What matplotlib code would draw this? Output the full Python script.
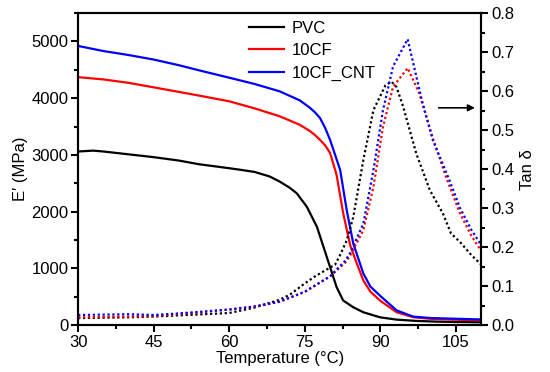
import numpy as np
import matplotlib.pyplot as plt
from matplotlib.ticker import MultipleLocator

plt.rcParams['font.family'] = ['Liberation Sans', 'DejaVu Sans']
plt.rcParams['font.size'] = 12

# 储能模量 E' (MPa)
t_pvc = [30, 33, 35, 40, 45, 50, 54, 60, 62, 65, 68, 70, 72, 73.4, 75.4, 77.4, 78.7, 80, 81.3, 82.6, 84.6, 86.6, 89.9, 93.2, 97, 101, 105, 110]
e_pvc = [3060, 3075, 3060, 3010, 2960, 2900, 2835, 2765, 2740, 2700, 2620, 2530, 2420, 2322, 2085, 1731, 1377, 1023, 669, 434, 315, 227, 138, 97, 75, 62, 55, 50]

t_cf = [30, 35, 40, 45, 50, 54, 60, 65, 70, 74, 76, 77, 78, 79, 80, 81.3, 82.6, 84, 85.3, 86.6, 88, 89.9, 93.2, 96.5, 100, 105, 110]
e_cf = [4370, 4330, 4270, 4190, 4110, 4045, 3944, 3820, 3680, 3530, 3420, 3350, 3265, 3170, 3035, 2645, 1973, 1407, 1088, 788, 590, 434, 227, 140, 110, 95, 85]

t_cnt = [30, 35, 40, 45, 50, 54, 60, 65, 70, 74, 76, 77, 78, 79, 80, 82, 83.3, 84.6, 86.6, 88, 89.9, 93.2, 96.5, 100, 105.8, 110]
e_cnt = [4920, 4830, 4760, 4680, 4580, 4490, 4360, 4250, 4120, 3960, 3830, 3750, 3650, 3480, 3265, 2735, 2027, 1440, 910, 680, 520, 260, 150, 125, 110, 100]

# 损耗因子 Tan δ
tt_pvc = [30, 40, 45, 50, 55, 60, 65, 70, 72, 75, 77, 79, 81, 82, 83.3, 84.6, 86.6, 88.6, 91, 92.2, 93.2, 94.5, 97.1, 99.8, 102.4, 104, 105.8, 108, 110]
tan_pvc = [0.018, 0.02, 0.022, 0.025, 0.028, 0.031, 0.045, 0.065, 0.078, 0.107, 0.125, 0.14, 0.155, 0.18, 0.217, 0.277, 0.423, 0.551, 0.615, 0.624, 0.61, 0.56, 0.44, 0.346, 0.286, 0.235, 0.213, 0.18, 0.155]

tt_cf = [30, 40, 45, 50, 55, 60, 65, 70, 75, 80, 83, 84, 86.6, 88.6, 90.5, 92.5, 95.4, 97.7, 100.3, 103, 105.8, 108, 110]
tan_cf = [0.02, 0.022, 0.024, 0.028, 0.034, 0.04, 0.047, 0.06, 0.085, 0.125, 0.16, 0.179, 0.243, 0.354, 0.508, 0.611, 0.659, 0.594, 0.483, 0.38, 0.286, 0.23, 0.19]

tt_cnt = [30, 40, 45, 50, 55, 60, 65, 70, 75, 80, 83, 84, 86.6, 88.6, 90.5, 92.5, 95.4, 98.2, 100.4, 103.7, 105.8, 108, 110]
tan_cnt = [0.026, 0.028, 0.026, 0.03, 0.035, 0.04, 0.048, 0.06, 0.086, 0.125, 0.165, 0.185, 0.26, 0.397, 0.551, 0.663, 0.733, 0.577, 0.474, 0.371, 0.3, 0.245, 0.205]

fig = plt.figure(figsize=(5.5, 3.72), dpi=100)
ax = fig.add_axes([0.142, 0.126, 0.733, 0.839])
ax2 = ax.twinx()

ax.plot(t_pvc, e_pvc, color='black', lw=1.6, label='PVC')
ax.plot(t_cf, e_cf, color='red', lw=1.6, label='10CF')
ax.plot(t_cnt, e_cnt, color='blue', lw=1.6, label='10CF_CNT')

ax2.plot(tt_pvc, tan_pvc, color='black', lw=1.6, ls=(0, (1, 1.2)))
ax2.plot(tt_cf, tan_cf, color='red', lw=1.6, ls=(0, (1, 1.2)))
ax2.plot(tt_cnt, tan_cnt, color='blue', lw=1.6, ls=(0, (1, 1.2)))

ax.set_xlim(30, 110)
ax.set_ylim(0, 5500)
ax2.set_ylim(0, 0.8)

ax.xaxis.set_major_locator(MultipleLocator(15))
ax.xaxis.set_minor_locator(MultipleLocator(7.5))
ax.yaxis.set_major_locator(MultipleLocator(1000))
ax.yaxis.set_minor_locator(MultipleLocator(500))
ax2.yaxis.set_major_locator(MultipleLocator(0.1))
ax2.yaxis.set_minor_locator(MultipleLocator(0.05))

for a in (ax, ax2):
    for s in a.spines.values():
        s.set_linewidth(1.5)
ax.tick_params(which='major', direction='out', length=5, width=1.5, labelsize=12, pad=2)
ax.tick_params(which='minor', direction='out', length=3, width=1.5)
ax2.tick_params(which='major', direction='out', length=5, width=1.5, labelsize=12, pad=2)
ax2.tick_params(which='minor', direction='out', length=3, width=1.5)

ax.set_xlabel('Temperature (°C)', fontsize=12, labelpad=1)
ax.set_ylabel('E′ (MPa)', fontsize=12, labelpad=2)
ax2.set_ylabel('Tan δ', fontsize=12, labelpad=4)

ax.legend(loc='upper left', bbox_to_anchor=(0.425, 0.975), frameon=False, fontsize=12,
          handlelength=2.1, handletextpad=0.45, labelspacing=0.45, borderaxespad=0.0,
          borderpad=0.0)

ax2.annotate('', xy=(109.3, 0.557), xytext=(101, 0.557),
             arrowprops=dict(arrowstyle='-|>', color='black', lw=1.2, mutation_scale=10))

fig.savefig('out.png', dpi=100)
